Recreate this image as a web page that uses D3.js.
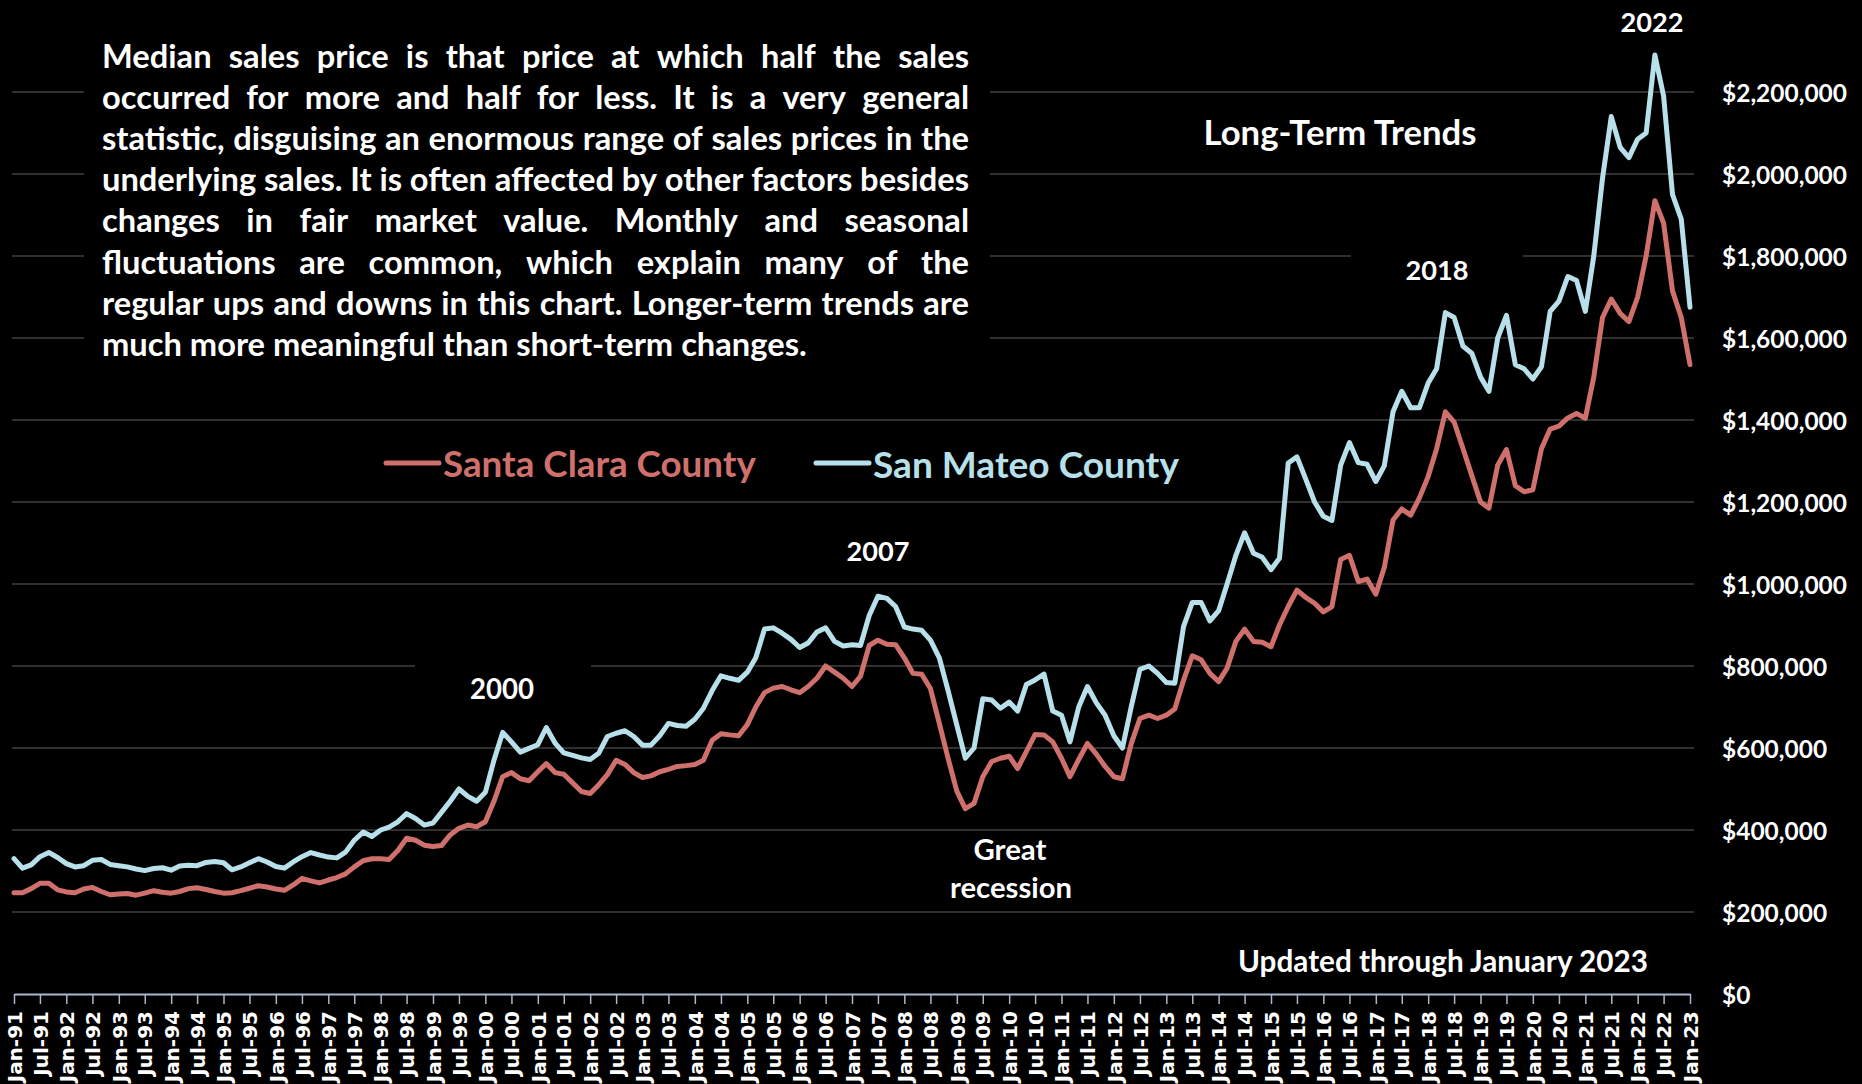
<!DOCTYPE html>
<html lang="en">
<head>
<meta charset="utf-8">
<style>
  body { margin: 0; background: #000; }
  svg { display: block; background: #000; }
  .note { font-family: Lato, "Open Sans", sans-serif; font-weight: 700; fill: #fff; }
  .grid line { stroke: #404040; stroke-width: 1.5px; }
  .series { fill: none; stroke-width: 5px; stroke-linejoin: round; stroke-linecap: round; }
</style>
</head>
<body>
<script src="https://cdn.jsdelivr.net/npm/d3@7"></script>
<script>

// Median sales price, one value every 2 months from Jan-91 to Jan-23, in $ thousands
var startDate = new Date(1991, 0, 1),
    endDate = new Date(2023, 0, 1),
    stepMonths = 2;

var santaClara = [
  247, 247, 257, 270, 270, 254, 249, 247, 256, 260, 250, 242,
  244, 245, 241, 246, 252, 248, 246, 250, 257, 259, 255, 250,
  246, 247, 252, 258, 264, 261, 256, 253, 266, 282, 276, 271,
  278, 284, 293, 310, 325, 330, 330, 328, 350, 380, 375, 363,
  360, 362, 388, 404, 412, 408, 420, 470, 530, 540, 525, 520,
  542, 562, 540, 536, 515, 494, 489, 510, 535, 570, 560, 540,
  528, 532, 542, 548, 555, 557, 560, 570, 619, 635, 632, 630,
  657, 700, 735, 746, 750, 742, 735, 750, 770, 800, 785, 770,
  750, 775, 850, 863, 853, 852, 820, 782, 780, 745, 660, 575,
  495, 452, 465, 530, 567, 575, 580, 550, 591, 633, 632, 615,
  575, 530, 572, 611, 585, 555, 530, 525, 610, 672, 680, 672,
  680, 695, 765, 825, 815, 782, 762, 795, 860, 890, 860, 858,
  847, 900, 945, 985, 967, 953, 932, 945, 1060, 1070, 1006, 1012,
  975, 1040, 1156, 1183, 1168, 1210, 1262, 1330, 1420, 1395, 1330, 1265,
  1200, 1185, 1290, 1328, 1240, 1225, 1230, 1330, 1378, 1385, 1405, 1416,
  1404, 1505, 1650, 1695, 1660, 1640, 1700, 1800, 1935, 1880, 1715, 1650,
  1535
];

var sanMateo = [
  330, 307, 315, 335, 345, 333, 318, 310, 313, 326, 328, 316,
  313, 310, 305, 301, 306, 308, 302, 312, 314, 313, 321, 323,
  320, 303, 310, 320, 330, 322, 311, 307, 322, 335, 345, 339,
  334, 332, 346, 375, 395, 384, 400, 407, 420, 440, 428, 412,
  417, 443, 470, 500, 482, 470, 492, 570, 638, 615, 590, 599,
  608, 650, 612, 588, 582, 576, 572, 587, 628, 636, 642, 628,
  607, 607, 630, 660, 655, 653, 670, 697, 740, 776, 770, 765,
  785, 820, 890, 893, 880, 865, 845, 856, 883, 893, 860, 849,
  852, 850, 923, 970, 965, 945, 895, 890, 887, 863, 820, 740,
  656, 575, 600, 720, 717, 697, 712, 690, 755, 766, 780, 690,
  680, 615, 700, 750, 710, 680, 630, 600, 700, 792, 800, 782,
  760, 758, 896, 955, 955, 910, 935, 1000, 1070, 1125, 1075, 1065,
  1035, 1063, 1295, 1310, 1255, 1200, 1165, 1155, 1290, 1345, 1296, 1292,
  1250, 1288, 1420, 1470, 1430, 1430, 1490, 1525, 1662, 1650, 1580, 1563,
  1505, 1470, 1600, 1655, 1535, 1525, 1500, 1530, 1665, 1690, 1750, 1740,
  1665, 1800, 1990, 2140, 2065, 2040, 2085, 2100, 2290, 2190, 1950, 1890,
  1675
];

var seriesNames = ["Santa Clara County", "San Mateo County"],
    seriesColors = ["#d0706c", "#b8e0ea"],
    yTicks = [0, 200000, 400000, 600000, 800000, 1000000, 1200000,
              1400000, 1600000, 1800000, 2000000, 2200000];

var paragraph = [
  "Median sales price is that price at which half the sales",
  "occurred for more and half for less. It is a very general",
  "statistic, disguising an enormous range of sales prices in the",
  "underlying sales. It is often affected by other factors besides",
  "changes in fair market value. Monthly and seasonal",
  "fluctuations are common, which explain many of the",
  "regular ups and downs in this chart. Longer-term trends are",
  "much more meaningful than short-term changes."
];

var notes = [
  {text: "Long-Term Trends", x: 1340, y: 131, w: 273},
  {text: "2022", x: 1652, y: 21, w: 63},
  {text: "2018", x: 1437, y: 269, w: 63},
  {text: "2007", x: 878, y: 550, w: 63},
  {text: "2000", x: 502, y: 688, w: 64},
  {text: "Great", x: 1010, y: 848, w: 73},
  {text: "recession", x: 1011, y: 886, w: 122},
  {text: "Updated through January 2023", x: 1443, y: 960, w: 410}
];

var W = 1862, H = 1084;

var svg = d3.select("body").append("svg")
    .attr("width", W)
    .attr("height", H);

var dates = santaClara.map(function(d, i){ return d3.timeMonth.offset(startDate, i * stepMonths); });

var x = d3.scaleTime().domain([startDate, endDate]).range([14, 1690]);
var y = d3.scaleLinear().domain([0, 2200000]).range([994, 92]);

// font size that makes a text exactly w pixels wide
function fit(sel, w){
    sel.style("font-size", "100px");
    var len = sel.node().getComputedTextLength();
    sel.style("font-size", (100 * w / len) + "px");
    return 100 * w / len;
}

//******GRIDLINES******
svg.append("g").attr("class", "grid")
  .selectAll("line")
  .data(yTicks.slice(1))
  .enter().append("line")
    .attr("x1", 12).attr("x2", 1694)
    .attr("y1", function(d){ return y(d); })
    .attr("y2", function(d){ return y(d); });

// black text boxes hide the gridlines behind them
var boxes = [[84, 25, 906, 350], [415, 650, 176, 70], [1351, 235, 172, 66]];
svg.append("g").selectAll("rect")
  .data(boxes)
  .enter().append("rect")
    .attr("x", function(d){ return d[0]; })
    .attr("y", function(d){ return d[1]; })
    .attr("width", function(d){ return d[2]; })
    .attr("height", function(d){ return d[3]; })
    .attr("fill", "#000");

//******AXES******
var xAxis = d3.axisBottom(x)
    .tickValues(d3.timeMonth.every(6).range(startDate, d3.timeMonth.offset(endDate, 1)))
    .tickFormat(d3.timeFormat("%b-%y"))
    .tickSize(10)
    .tickSizeOuter(0);

svg.append("g")
    .attr("transform", "translate(0,994)")
    .call(xAxis)
    .call(function(g){ g.select(".domain").attr("stroke", "#a9b8d0").attr("stroke-width", 2); })
    .call(function(g){ g.selectAll(".tick line").attr("stroke", "#a9b8d0").attr("stroke-width", 1.5); })
    .call(function(g){
        g.selectAll(".tick text")
          .attr("transform", "rotate(-90)")
          .attr("x", -17).attr("y", 0).attr("dy", "0.36em")
          .attr("text-anchor", "end")
          .attr("fill", "#fff")
          .style("font-family", "'DejaVu Sans', sans-serif")
          .style("font-weight", "bold")
          .style("font-size", "20px");
    });

var yAxis = d3.axisRight(y)
    .tickValues(yTicks)
    .tickFormat(d3.format("$,"))
    .tickSize(0);

var yg = svg.append("g")
    .attr("transform", "translate(1722,0)")
    .call(yAxis);
yg.select(".domain").remove();
yg.selectAll(".tick text")
    .attr("x", 0).attr("dy", null)
    .attr("dominant-baseline", "central")
    .attr("fill", "#fff")
    .attr("class", "note");
var ySize = fit(yg.selectAll(".tick text").filter(function(d){ return d === 2200000; }), 125);
yg.selectAll(".tick text").style("font-size", ySize + "px");

//******LINES******
var line = d3.line()
    .x(function(d, i){ return x(dates[i]); })
    .y(function(d){ return y(d * 1000); });

svg.selectAll("path.series")
  .data([santaClara, sanMateo])
  .enter().append("path")
    .attr("class", "series")
    .attr("stroke", function(d, i){ return seriesColors[i]; })
    .attr("d", line);

//******LEGEND******
var legendPos = [{x0: 386, x1: 439, tx: 443, w: 313}, {x0: 816, x1: 869, tx: 873, w: 306}];
seriesNames.forEach(function(name, i){
    var p = legendPos[i];
    svg.append("line")
      .attr("x1", p.x0).attr("x2", p.x1)
      .attr("y1", 463).attr("y2", 463)
      .attr("stroke", seriesColors[i])
      .attr("stroke-width", 5)
      .attr("stroke-linecap", "round");
    var t = svg.append("text")
      .attr("class", "note")
      .attr("x", p.tx).attr("y", 463)
      .attr("dominant-baseline", "central")
      .style("fill", seriesColors[i])
      .text(name);
    fit(t, p.w);
});

//******TEXT******
var para = svg.append("g").attr("class", "note");
var probe = para.append("text").text(paragraph[paragraph.length - 1]);
var pSize = fit(probe, 705);
probe.remove();
para.style("font-size", pSize + "px");

var left = 102, right = 969;
paragraph.forEach(function(str, li){
    var ly = 55 + li * 41.2;
    if (li === paragraph.length - 1){
        para.append("text")
          .attr("x", left).attr("y", ly)
          .attr("dominant-baseline", "central")
          .text(str);
        return;
    }
    // justify: one text per word, spread across the box
    var words = str.split(" ");
    var texts = words.map(function(w){
        return para.append("text")
          .attr("y", ly)
          .attr("dominant-baseline", "central")
          .text(w);
    });
    var widths = texts.map(function(t){ return t.node().getComputedTextLength(); });
    var gap = (right - left - d3.sum(widths)) / (words.length - 1);
    var xx = left;
    texts.forEach(function(t, i){
        t.attr("x", xx);
        xx += widths[i] + gap;
    });
});

notes.forEach(function(n){
    var t = svg.append("text")
      .attr("class", "note")
      .attr("x", n.x).attr("y", n.y)
      .attr("text-anchor", "middle")
      .attr("dominant-baseline", "central")
      .text(n.text);
    fit(t, n.w);
});

</script>
</body>
</html>
